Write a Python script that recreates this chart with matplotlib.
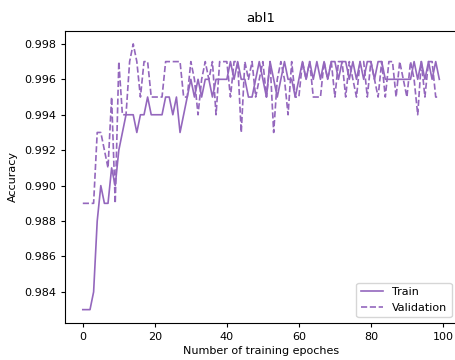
import numpy as np
import matplotlib
matplotlib.use('Agg')
import matplotlib.pyplot as plt

epochs = np.arange(100)

train = [0.983, 0.983, 0.983, 0.984, 0.988, 0.990, 0.989, 0.989, 0.991, 0.990,
         0.992, 0.993, 0.994, 0.994, 0.994, 0.993, 0.994, 0.994, 0.995, 0.994,
         0.994, 0.994, 0.994, 0.995, 0.995, 0.994, 0.995, 0.993, 0.994, 0.995,
         0.996, 0.995, 0.996, 0.995, 0.996, 0.996, 0.995, 0.996, 0.996, 0.996,
         0.996, 0.997, 0.996, 0.997, 0.996, 0.996, 0.995, 0.995, 0.996, 0.997,
         0.996, 0.995, 0.997, 0.996, 0.995, 0.996, 0.997, 0.996, 0.996, 0.995,
         0.996, 0.997, 0.996, 0.997, 0.996, 0.997, 0.996, 0.997, 0.996, 0.997,
         0.997, 0.996, 0.997, 0.997, 0.996, 0.997, 0.996, 0.997, 0.996, 0.997,
         0.997, 0.996, 0.997, 0.997, 0.996, 0.996, 0.996, 0.996, 0.996, 0.996,
         0.996, 0.996, 0.997, 0.996, 0.997, 0.996, 0.997, 0.996, 0.997, 0.996]

validation = [0.989, 0.989, 0.989, 0.989, 0.993, 0.993, 0.992, 0.991, 0.995, 0.989,
              0.997, 0.994, 0.994, 0.997, 0.998, 0.997, 0.995, 0.997, 0.997, 0.995,
              0.995, 0.995, 0.995, 0.997, 0.997, 0.997, 0.997, 0.997, 0.995, 0.995,
              0.997, 0.996, 0.994, 0.996, 0.997, 0.996, 0.997, 0.994, 0.997, 0.997,
              0.997, 0.995, 0.997, 0.997, 0.993, 0.997, 0.996, 0.997, 0.995, 0.996,
              0.997, 0.995, 0.997, 0.993, 0.996, 0.997, 0.996, 0.994, 0.997, 0.995,
              0.995, 0.997, 0.996, 0.997, 0.995, 0.995, 0.995, 0.997, 0.996, 0.997,
              0.995, 0.997, 0.997, 0.995, 0.997, 0.996, 0.995, 0.997, 0.997, 0.995,
              0.997, 0.996, 0.995, 0.997, 0.995, 0.997, 0.997, 0.995, 0.997, 0.996,
              0.995, 0.997, 0.996, 0.994, 0.997, 0.995, 0.997, 0.997, 0.995, 0.995]

color = '#9467bd'

plt.rcParams['font.size'] = 8
plt.rcParams['axes.titlesize'] = 9.6
plt.rcParams['axes.linewidth'] = 0.8
plt.rcParams['xtick.major.size'] = 3
plt.rcParams['ytick.major.size'] = 3

fig = plt.figure(figsize=(4.56, 3.6), dpi=100)
ax = fig.add_axes([0.1425, 0.103, 0.86, 0.812])
ax.plot(epochs, train, '-', color=color, lw=1.2, label='Train')
ax.plot(epochs, validation, '--', color=color, lw=1.2, label='Validation')
ax.set_title('abl1')
ax.set_xlabel('Number of training epoches', labelpad=3)
ax.set_ylabel('Accuracy')
ax.set_yticks([0.984, 0.986, 0.988, 0.990, 0.992, 0.994, 0.996, 0.998])
ax.legend(loc='lower right')
fig.savefig('out.png', dpi=100)
